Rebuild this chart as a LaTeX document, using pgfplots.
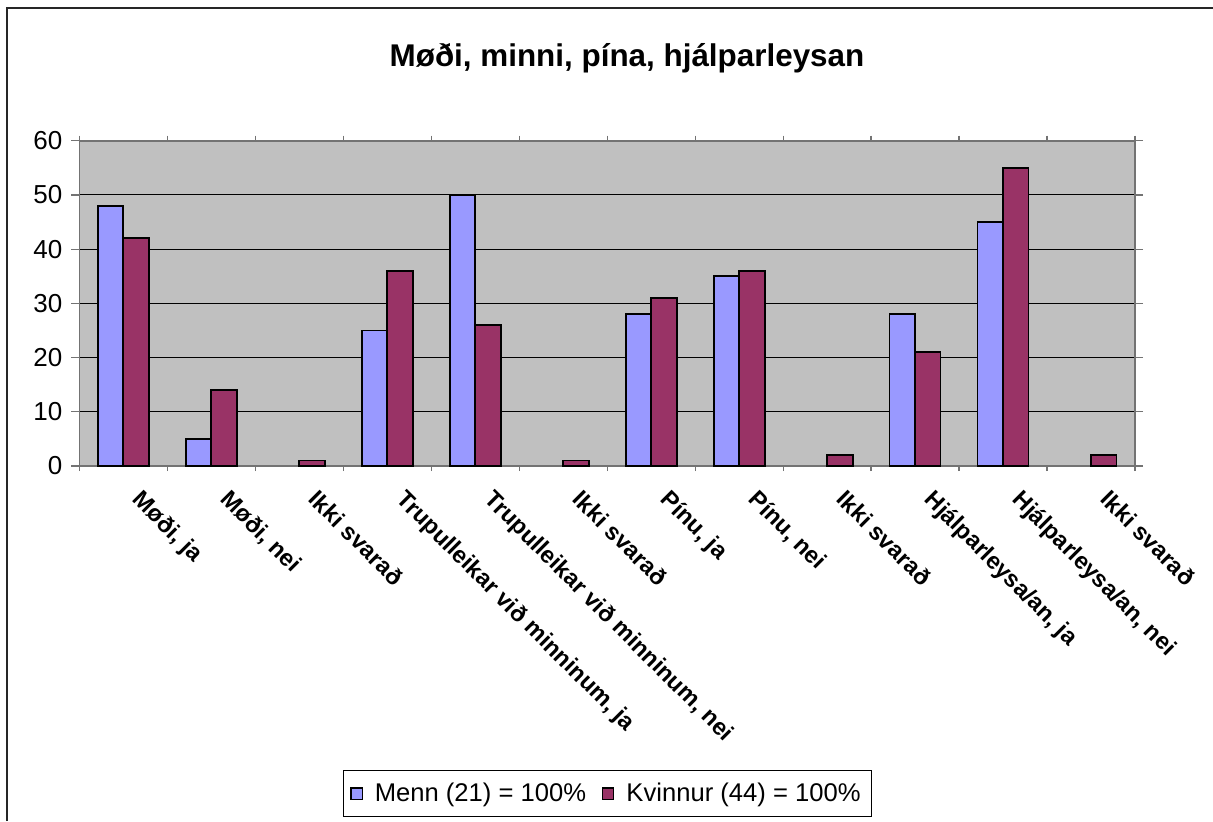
\documentclass[border=0pt]{standalone}
\usepackage{fontspec}
\setmainfont{Liberation Sans}
\usepackage{pgfplots}
\pgfplotsset{compat=1.18}
\definecolor{menn}{HTML}{9999FF}
\definecolor{kvinnur}{HTML}{993366}
\definecolor{plotbg}{HTML}{C0C0C0}
\newcommand{\fs}[1]{\fontsize{#1}{#1}\selectfont}
\begin{document}
\begin{tikzpicture}[x=0.5pt,y=0.5pt]
\useasboundingbox (0,0) rectangle (1213,821);
\draw[line width=1pt, black!85] (7,0) -- (7,813) -- (1213,813);
\node[anchor=base, font=\fs{15.7pt}\bfseries, inner sep=0pt] at (627,754.3) {Møði, minni, pína, hjálparleysan};
\begin{axis}[
  at={(39.65pt,177.5pt)}, anchor=south west,
  scale only axis, width=527.85pt, height=162.65pt,
  ybar=0pt, bar width=12.75pt,
  xmin=-0.5, xmax=11.5, ymin=0, ymax=60,
  enlargelimits=false,
  axis background/.style={fill=plotbg},
  axis line style={draw=black!55, line width=0.8pt},
  ymajorgrids, grid style={black, line width=0.5pt},
  ytick={0,10,...,60},
  tick align=outside,
  ytick style={draw=black!55, line width=0.6pt},
  major tick length=4pt,
  /pgf/number format/assume math mode=true,
  yticklabel style={font=\fs{13pt}, xshift=-1pt},
  xtick={0,...,11},
  xtick style={draw=none},
  xticklabels={{Møði, ja},{Møði, nei},{Ikki svarað},{Trupulleikar við minninum, ja},{Trupulleikar við minninum, nei},{Ikki svarað},{Pínu, ja},{Pínu, nei},{Ikki svarað},{Hjálparleysa/an, ja},{Hjálparleysa/an, nei},{Ikki svarað}},
  xticklabel style={font=\fs{11.8pt}\bfseries, rotate=-45, anchor=north west, xshift=11.2pt, yshift=3.2pt, inner sep=1pt},
  extra x ticks={-0.5,0.5,...,11.5},
  extra x tick labels={},
  extra x tick style={xtick style={draw=black!55, line width=0.6pt}, major tick length=2.5pt, tick align=outside, grid=none},
  legend columns=-1,
  legend style={at={(0.5003,-1.0068)}, anchor=center, draw=black, line width=0.5pt, fill=white,
    font=\fs{12.8pt}, inner xsep=3.5pt, inner ysep=4pt,
    /tikz/every odd column/.append style={column sep=4pt},
    /tikz/every even column/.append style={column sep=6pt}},
]
\addplot[fill=menn, draw=black, line width=0.9pt,
  legend image code/.code={\draw[fill=menn,draw=black,line width=0.6pt] (0pt,-2.8pt) rectangle (5.6pt,2.8pt);}]
  coordinates {(0,48) (1,5) (3,25) (4,50) (6,28) (7,35) (9,28) (10,45)};
\addplot[fill=kvinnur, draw=black, line width=0.9pt,
  legend image code/.code={\draw[fill=kvinnur,draw=black,line width=0.6pt] (0pt,-2.8pt) rectangle (5.6pt,2.8pt);}]
  coordinates {(0,42) (1,14) (2,1) (3,36) (4,26) (5,1) (6,31) (7,36) (8,2) (9,21) (10,55) (11,2)};
\legend{Menn (21) = 100\%, Kvinnur (44) = 100\%}
\end{axis}
\end{tikzpicture}
\end{document}
